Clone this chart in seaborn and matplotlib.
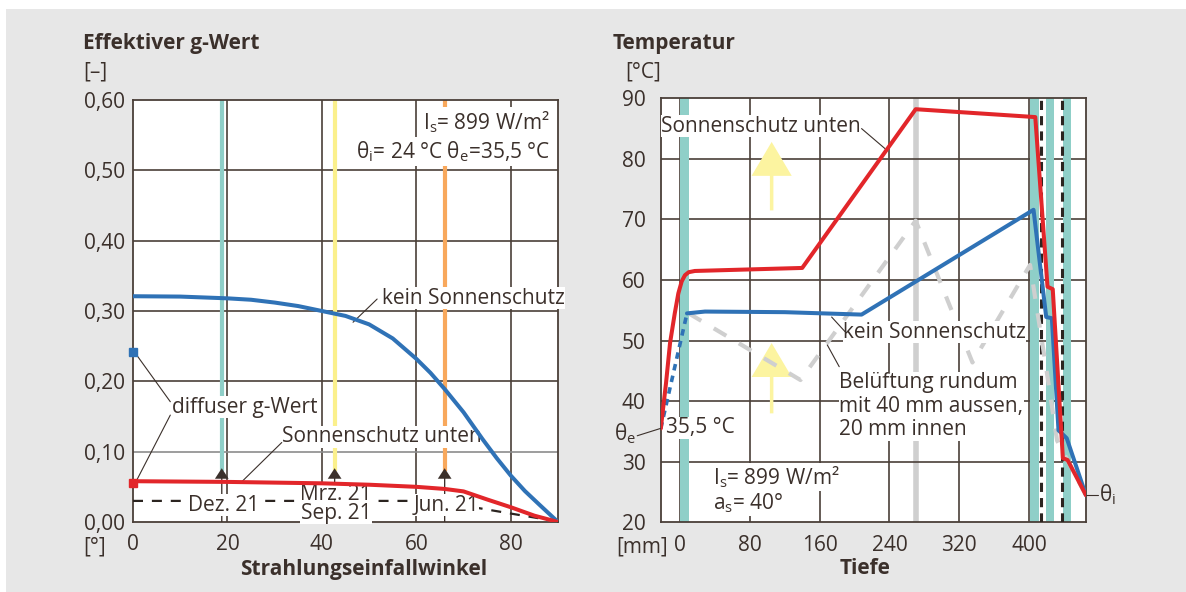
import matplotlib
matplotlib.use("Agg")
import matplotlib.pyplot as plt
import seaborn as sns
from matplotlib.patches import Rectangle
from matplotlib.lines import Line2D

# ---------------- data: effective g-value vs. angle of incidence ----------------
angle_no_shade = [0, 10, 20, 25, 30, 35, 40, 45, 50, 55, 60, 63, 66, 70, 74, 77, 80,
                  83, 86, 90]
g_no_shade = [0.321, 0.3205, 0.318, 0.316, 0.312, 0.307, 0.300, 0.293, 0.281, 0.261,
              0.232, 0.212, 0.189, 0.156, 0.118, 0.091, 0.066, 0.044, 0.025, 0.0]

angle_shade = [0, 20, 40, 50, 60, 66, 70, 75, 80, 85, 90]
g_shade = [0.058, 0.057, 0.055, 0.053, 0.050, 0.047, 0.0435, 0.032, 0.021, 0.009, 0.0]

angle_ref = [0, 60, 66, 73, 80, 88, 90]
g_ref = [0.030, 0.030, 0.026, 0.020, 0.012, 0.003, 0.0]

g_diffuse_no_shade = 0.241
g_diffuse_shade = 0.055

sun_angles = [18.8, 42.7, 66.0]
sun_dates = ["Dez. 21", "Mrz. 21\nSep. 21", "Jun. 21"]

g_yticks = [0.0, 0.1, 0.2, 0.3, 0.4, 0.5, 0.6]
g_yticklabels = ["0,00", "0,10", "0,20", "0,30", "0,40", "0,50", "0,60"]
angle_ticks = [0, 20, 40, 60, 80]

# ---------------- data: temperature profile through the facade ----------------
depth_shade = [-22, -16, -11.4, -6, -1.9, 2, 5.7, 10, 17, 140, 270, 407, 421, 427,
               438.6, 444, 465]
temp_shade = [35.5, 43.0, 49.6, 54.5, 57.8, 59.8, 60.8, 61.3, 61.5, 62.0, 88.2,
              86.9, 58.9, 58.5, 30.6, 30.3, 24.5]

depth_no_shade_outer = [-22, 8]
temp_no_shade_outer = [35.5, 54.5]
depth_no_shade = [8, 28.6, 120, 208, 405, 419.5, 426, 433.6, 443, 465]
temp_no_shade = [54.5, 54.8, 54.7, 54.3, 71.6, 53.9, 53.7, 35.2, 33.9, 24.5]

depth_vent = [10, 138, 270, 335, 401, 420, 432, 465]
temp_vent = [54.5, 43.5, 69.8, 46.4, 62.5, 45.0, 33.5, 24.5]

panes = [(0, 10), (401, 410.7), (419.1, 427.9), (439.3, 448.1)]
cavity_lines = [413.4, 437.5]
blind_depth = 270.5
heat_arrows = [(105, 38.0, 49.6), (105, 71.5, 82.8)]  # x, foot, tip

t_yticks = [20, 30, 40, 50, 60, 70, 80, 90]
depth_ticks = [0, 80, 160, 240, 320, 400]

# ---------------- style ----------------
sns.set_theme(style="white")
plt.rcParams["font.family"] = ["Open Sans", "DejaVu Sans"]
plt.rcParams["mathtext.default"] = "regular"

TXT = "#3b302b"
GRID = "#4a3f38"
BG = "#e7e7e7"
RED = "#e2262a"
BLUE = "#2f72b6"
TEAL = "#8fcfc8"
YELLOW = "#fbf08c"
ORANGE = "#f8a85c"
LGRAY = "#cfcfcf"
ARROW_Y = "#fcf4a0"
FS = 15

W, H = 1186, 592
fig = plt.figure(figsize=(W / 100, H / 100), dpi=100)
fig.patch.set_facecolor("white")
fig.add_artist(Rectangle((6 / W, 0), 1 - 6 / W, 1 - 9 / H, transform=fig.transFigure,
                         facecolor=BG, edgecolor="none", zorder=-10))


def fx(px):
    return px / W


def fy(py):
    return 1 - py / H


def box(pad=1.0):
    return dict(facecolor="white", edgecolor="none", pad=pad)


def style_axes(ax):
    ax.set_facecolor("white")
    for s in ax.spines.values():
        s.set_color(GRID)
        s.set_linewidth(1.3)
        s.set_visible(True)
    ax.grid(False)
    ax.set_xlabel("")
    ax.set_ylabel("")


# ================= left panel: effective g-value =================
ax1 = fig.add_axes([fx(133), fy(522), fx(558) - fx(133), fy(100) - fy(522)])
style_axes(ax1)
ax1.set_xlim(0, 90)
ax1.set_ylim(0, 0.6)

for v in angle_ticks[1:]:
    ax1.axvline(v, color=GRID, lw=1.2, zorder=1)
for v in g_yticks[1:-1]:
    ax1.axhline(v, color="#8c8c8c" if v == 0.1 else GRID, lw=1.2, zorder=1)

for a, c in zip(sun_angles, [TEAL, YELLOW, ORANGE]):
    ax1.plot([a, a], [0.072, 0.6], color=c, lw=3.0, zorder=2, solid_capstyle="butt")
    ax1.arrow(a, 0.0, 0, 0.0765, width=0.28, head_width=2.9, head_length=0.015,
              length_includes_head=True, color=TXT, zorder=4, lw=0)

sns.lineplot(x=angle_ref, y=g_ref, ax=ax1, color="#2b2420", lw=1.6,
             linestyle=(0, (4.5, 4)), sort=False, estimator=None, zorder=3)
sns.lineplot(x=angle_no_shade, y=g_no_shade, ax=ax1, color=BLUE, lw=2.9,
             sort=False, estimator=None, zorder=6)
sns.lineplot(x=angle_shade, y=g_shade, ax=ax1, color=RED, lw=2.9,
             sort=False, estimator=None, zorder=6)
ax1.plot([0], [g_diffuse_no_shade], marker="s", ms=5.8, color=BLUE, clip_on=False, zorder=7)
ax1.plot([0], [g_diffuse_shade], marker="s", ms=6.2, color=RED, clip_on=False, zorder=7)

ax1.set_xticks(angle_ticks)
ax1.set_xticklabels([str(v) for v in angle_ticks])
ax1.set_yticks(g_yticks)
ax1.set_yticklabels(g_yticklabels)
ax1.tick_params(axis="x", length=0, pad=9, labelsize=FS, labelcolor=TXT)
ax1.tick_params(axis="y", length=0, pad=6, labelsize=FS, labelcolor=TXT)

# labels inside the left panel
ax1.text(88.3, 0.558, "I$_s$= 899 W/m²", ha="right", va="baseline", fontsize=FS,
         color=TXT, bbox=box(1.5), zorder=5)
ax1.text(88.3, 0.517, "θ$_i$= 24 °C θ$_e$=35,5 °C", ha="right", va="baseline",
         fontsize=FS, color=TXT, bbox=box(1.5), zorder=5)
ax1.text(52.7, 0.318, "kein Sonnenschutz", ha="left", va="center", fontsize=FS,
         color=TXT, bbox=box(0.5), zorder=5)
ax1.plot([46.6, 51.7], [0.284, 0.317], color=TXT, lw=0.8, zorder=5)
ax1.text(8.3, 0.163, "diffuser g-Wert", ha="left", va="center", fontsize=FS,
         color=TXT, bbox=box(0.5), zorder=5)
ax1.plot([0.6, 7.9], [0.239, 0.171], color=TXT, lw=0.8, zorder=5)
ax1.plot([0.6, 7.9], [0.057, 0.152], color=TXT, lw=0.8, zorder=5)
ax1.text(31.6, 0.121, "Sonnenschutz unten", ha="left", va="center", fontsize=FS,
         color=TXT, bbox=box(0.5), zorder=5)
ax1.plot([23.0, 31.5], [0.057, 0.113], color=TXT, lw=0.8, zorder=5)
for a, lab, yy in zip(sun_angles, sun_dates, [0.024, 0.0255, 0.024]):
    ax1.text(a + 0.3, yy, lab, ha="center", va="center", fontsize=FS, color=TXT,
             linespacing=0.85, bbox=box(0.3), zorder=5)

fig.text(fx(83), fy(43), "Effektiver g-Wert", ha="left", va="center", fontsize=FS,
         fontweight="bold", color=TXT)
fig.text(fx(83), fy(72), "[–]", ha="left", va="center", fontsize=FS, color=TXT)
fig.text(fx(83), fy(547), "[°]", ha="left", va="center", fontsize=FS, color=TXT)
fig.text(fx(364), fy(569), "Strahlungseinfallwinkel", ha="center", va="center",
         fontsize=FS, fontweight="bold", color=TXT)

# ================= right panel: temperature profile =================
ax2 = fig.add_axes([fx(660.7), fy(522.4), fx(1086) - fx(660.7), fy(98.3) - fy(522.4)])
style_axes(ax2)
ax2.set_xlim(-22.1, 465.1)
ax2.set_ylim(20, 90)

ax2.axvline(blind_depth, color=LGRAY, lw=4.0, zorder=0.8)
for v in depth_ticks:
    ax2.axvline(v, color=GRID, lw=1.2, zorder=1)
for v in t_yticks[1:-1]:
    ax2.axhline(v, color=GRID, lw=1.2, zorder=1)
for a, b in panes:
    ax2.axvspan(a, b, color=TEAL, lw=0, zorder=2)
for v in cavity_lines:
    ax2.axvline(v, color="#2b2420", lw=2.2, linestyle=(0, (3, 2)), zorder=3)

for x0, y0, y1 in heat_arrows:
    ax2.arrow(x0, y0, 0, y1 - y0, width=4.0, head_width=46, head_length=5.6,
              length_includes_head=True, color=ARROW_Y, lw=0, zorder=2)

sns.lineplot(x=depth_vent, y=temp_vent, ax=ax2, color=LGRAY, lw=3.0,
             linestyle=(0, (3.5, 3.5)), sort=False, estimator=None, zorder=3)
sns.lineplot(x=depth_no_shade_outer, y=temp_no_shade_outer, ax=ax2, color=BLUE, lw=2.6,
             linestyle=(0, (1.8, 1.5)), sort=False, estimator=None, zorder=6)
sns.lineplot(x=depth_no_shade, y=temp_no_shade, ax=ax2, color=BLUE, lw=2.9,
             sort=False, estimator=None, zorder=6)
sns.lineplot(x=depth_shade, y=temp_shade, ax=ax2, color=RED, lw=2.9,
             sort=False, estimator=None, zorder=7)

ax2.set_xticks(depth_ticks)
ax2.set_xticklabels([str(v) for v in depth_ticks])
ax2.set_yticks(t_yticks)
ax2.set_yticklabels([str(v) for v in t_yticks])
ax2.tick_params(axis="x", length=0, pad=9, labelsize=FS, labelcolor=TXT)
ax2.tick_params(axis="y", length=0, pad=11, labelsize=FS, labelcolor=TXT)

ax2.text(-21.5, 85.4, "Sonnenschutz unten", ha="left", va="center", fontsize=FS,
         color=TXT, bbox=box(0.5), zorder=5)
ax2.plot([208, 234.8], [85.0, 81.7], color=TXT, lw=0.8, zorder=5)
ax2.text(186.7, 51.4, "kein Sonnenschutz", ha="left", va="center", fontsize=FS,
         color=TXT, bbox=box(0.3), zorder=5)
ax2.plot([173.7, 189], [53.9, 51.5], color=TXT, lw=0.8, zorder=5)
ax2.text(182.4, 39.2, "Belüftung rundum\nmit 40 mm aussen,\n20 mm innen", ha="left",
         va="center", fontsize=FS, color=TXT, linespacing=1.15, bbox=box(0.5), zorder=5)
ax2.plot([168.7, 182.4], [49.3, 45.7], color=TXT, lw=0.8, zorder=5)
ax2.text(-16, 35.6, "35,5 °C", ha="left", va="center", fontsize=FS, color=TXT,
         bbox=box(0.5), zorder=5)
ax2.text(-50.5, 34.7, "θ$_e$", ha="right", va="center", fontsize=FS, color=TXT,
         clip_on=False)
ax2.add_line(Line2D([-49, -22.5], [34.3, 35.5], color=TXT, lw=0.8, clip_on=False, zorder=5))
ax2.text(37.4, 26.3, "I$_s$= 899 W/m²", ha="left", va="baseline", fontsize=FS,
         color=TXT, bbox=box(1.0), zorder=5)
ax2.text(37.4, 22.2, "a$_s$= 40°", ha="left", va="baseline", fontsize=FS,
         color=TXT, bbox=box(1.0), zorder=5)
ax2.add_line(Line2D([465.1, 479], [24.5, 24.5], color=TXT, lw=0.8, clip_on=False))
ax2.text(480, 24.5, "θ$_i$", ha="left", va="center", fontsize=FS, color=TXT,
         clip_on=False)

fig.text(fx(613), fy(43), "Temperatur", ha="left", va="center", fontsize=FS,
         fontweight="bold", color=TXT)
fig.text(fx(625), fy(72), "[°C]", ha="left", va="center", fontsize=FS, color=TXT)
fig.text(fx(668), fy(547), "[mm]", ha="right", va="center", fontsize=FS, color=TXT)
fig.text(fx(865), fy(569), "Tiefe", ha="center", va="center", fontsize=FS,
         fontweight="bold", color=TXT)

fig.savefig("out.png", dpi=100, facecolor=fig.get_facecolor())
